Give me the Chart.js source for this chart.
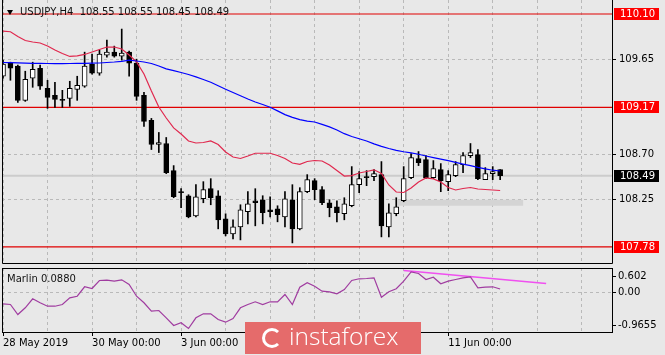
<!DOCTYPE html>
<html>
<head>
<meta charset="utf-8">
<script src="https://cdn.jsdelivr.net/npm/chart.js@4.4.0/dist/chart.umd.min.js"></script>
<style>
  body { margin: 0; background: #e8e8e8; }
  #wrap { position: relative; width: 665px; height: 355px; overflow: hidden; font-family: "DejaVu Sans", sans-serif; }
  #main { position: absolute; left: 0; top: 0; }
  #sub { position: absolute; left: 0; top: 264px; }
  .lbl { position: absolute; font-size: 10px; line-height: 12px; color: #111; white-space: pre; }
  .tri { position: absolute; left: 7px; top: 10px; width: 0; height: 0;
         border-left: 3.5px solid transparent; border-right: 3.5px solid transparent; border-top: 5px solid #000; }
  #wm { position: absolute; left: 245px; top: 322px; width: 176px; height: 32px; background: rgb(229,107,107); }
  #wm .ico { position: absolute; left: 17px; top: 6px; width: 14px; height: 14px; border: 3px solid #fff;
             border-right-color: transparent; border-radius: 50%; }
  #wm .txt { position: absolute; left: 44px; top: -2px; font-family: "Open Sans", sans-serif; font-size: 24.5px;
             font-weight: 300; line-height: 32px; color: #fff; }
</style>
</head>
<body>
<div id="wrap">
  <canvas id="main" width="665" height="264"></canvas>
  <canvas id="sub" width="665" height="91"></canvas>
  <div class="tri"></div>
  <div class="lbl" style="left:20px;top:6px;">USDJPY,H4  108.55 108.55 108.45 108.49</div>
  <div class="lbl" style="left:7px;top:273px;">Marlin 0.0880</div>
  <div id="wm"><span class="ico"></span><span class="txt">instaforex</span></div>
</div>
<script>
// H4 candles, index 0 = 28 May 2019 00:00
var opens = [109.48, 109.61, 109.58, 109.24, 109.46, 109.56, 109.36, 109.29, 109.25, 109.26,
             109.35, 109.38, 109.60, 109.51, 109.69, 109.72, 109.68, 109.72, 109.61, 109.29,
             109.04, 108.80, 108.81, 108.54, 108.33, 108.29, 108.09, 108.26, 108.36, 108.29,
             108.06, 107.91, 107.98, 108.13, 108.24, 108.25, 108.15, 108.16, 108.08, 108.25,
             107.96, 108.33, 108.44, 108.35, 108.22, 108.18, 108.11, 108.19, 108.40, 108.48,
             108.48, 108.50, 107.98, 108.11, 108.24, 108.47, 108.66, 108.65, 108.47, 108.55,
             108.43, 108.49, 108.60, 108.69, 108.70, 108.45, 108.51, 108.55];
var highs = [109.64, 109.62, 109.59, 109.53, 109.62, 109.59, 109.44, 109.42, 109.34, 109.43,
             109.48, 109.72, 109.70, 109.74, 109.84, 109.78, 109.95, 109.73, 109.65, 109.32,
             109.06, 108.92, 108.87, 108.59, 108.36, 108.30, 108.40, 108.43, 108.46, 108.34,
             108.11, 108.05, 108.20, 108.33, 108.36, 108.29, 108.28, 108.19, 108.33, 108.40,
             108.37, 108.50, 108.46, 108.38, 108.25, 108.24, 108.27, 108.58, 108.53, 108.54,
             108.55, 108.63, 108.21, 108.27, 108.58, 108.71, 108.73, 108.69, 108.64, 108.61,
             108.54, 108.63, 108.72, 108.81, 108.75, 108.57, 108.58, 108.55];
var lows = [109.46, 109.44, 109.22, 109.23, 109.37, 109.35, 109.16, 109.17, 109.17, 109.18,
            109.24, 109.37, 109.50, 109.49, 109.67, 109.67, 109.64, 109.48, 109.24, 108.98,
            108.75, 108.72, 108.51, 108.27, 108.17, 108.07, 108.08, 108.22, 108.20, 107.96,
            107.89, 107.86, 107.85, 108.01, 107.99, 108.01, 108.08, 108.03, 107.98, 107.82,
            107.95, 108.32, 108.25, 108.20, 108.08, 108.03, 108.05, 108.18, 108.32, 108.39,
            108.44, 107.88, 107.88, 108.09, 108.23, 108.46, 108.59, 108.46, 108.46, 108.33,
            108.34, 108.48, 108.52, 108.67, 108.45, 108.45, 108.45, 108.45];
var closes = [109.60, 109.56, 109.24, 109.45, 109.55, 109.38, 109.27, 109.25, 109.24, 109.36,
              109.39, 109.58, 109.51, 109.70, 109.72, 109.68, 109.71, 109.61, 109.28, 109.03,
              108.80, 108.82, 108.52, 108.28, 108.32, 108.08, 108.28, 108.35, 108.27, 108.05,
              107.91, 107.98, 108.15, 108.21, 108.22, 108.12, 108.13, 108.10, 108.26, 107.96,
              108.33, 108.45, 108.35, 108.22, 108.17, 108.12, 108.21, 108.40, 108.46, 108.47,
              108.51, 107.99, 108.12, 108.18, 108.46, 108.67, 108.62, 108.47, 108.56, 108.44,
              108.50, 108.60, 108.69, 108.72, 108.46, 108.51, 108.53, 108.49];

// moving averages
var maBlue = [109.617, 109.615, 109.613, 109.611, 109.609, 109.608, 109.607, 109.606, 109.606, 109.607,
              109.608, 109.609, 109.611, 109.612, 109.617, 109.622, 109.629, 109.640, 109.632, 109.622,
              109.607, 109.582, 109.554, 109.536, 109.517, 109.497, 109.474, 109.448, 109.420, 109.385,
              109.351, 109.318, 109.285, 109.253, 109.224, 109.198, 109.171, 109.135, 109.098, 109.070,
              109.048, 109.033, 109.024, 109.001, 108.976, 108.944, 108.908, 108.880, 108.857, 108.835,
              108.807, 108.781, 108.760, 108.742, 108.728, 108.716, 108.703, 108.686, 108.670, 108.654,
              108.639, 108.622, 108.605, 108.589, 108.572, 108.557, 108.544, 108.536];
var maRed = [109.929, 109.923, 109.876, 109.836, 109.821, 109.811, 109.781, 109.741, 109.707, 109.677,
             109.682, 109.697, 109.721, 109.746, 109.771, 109.771, 109.751, 109.692, 109.622, 109.502,
             109.333, 109.174, 109.064, 108.965, 108.905, 108.835, 108.815, 108.820, 108.835, 108.800,
             108.725, 108.676, 108.661, 108.686, 108.713, 108.713, 108.713, 108.691, 108.661, 108.616,
             108.603, 108.631, 108.641, 108.636, 108.596, 108.541, 108.486, 108.491, 108.516, 108.531,
             108.548, 108.511, 108.397, 108.327, 108.322, 108.367, 108.427, 108.467, 108.457, 108.427,
             108.372, 108.347, 108.362, 108.372, 108.357, 108.352, 108.347, 108.342];

// Marlin oscillator
var marlin = [-0.275, -0.292, -0.537, -0.373, -0.152, -0.250, -0.334, -0.334, -0.292, -0.128,
              -0.089, 0.142, 0.100, 0.296, 0.303, 0.279, 0.313, 0.198, -0.089, -0.250,
              -0.456, -0.439, -0.618, -0.806, -0.740, -0.880, -0.618, -0.520, -0.520, -0.659,
              -0.725, -0.635, -0.373, -0.292, -0.226, -0.292, -0.226, -0.226, -0.047, -0.292,
              0.132, 0.240, 0.156, 0.034, 0.019, -0.030, 0.075, 0.296, 0.338, 0.345,
              0.362, -0.113, 0.019, 0.093, 0.279, 0.509, 0.467, 0.320, 0.377, 0.215,
              0.279, 0.320, 0.362, 0.386, 0.117, 0.132, 0.142, 0.088];
var marlinTrend = [[54.0, 0.541], [73.2, 0.222]];

var levelLines = [110.10, 109.17, 107.78];
var priceTicks = [109.65, 108.70, 108.25];
var grayZone = [53.2, 70.1, 108.25, 108.19];   // from index, to index, top, bottom
var dayStarts = [0, 6, 12, 18, 24, 30, 36, 42, 48, 54, 60, 66, 72, 78];
var dateTickIdx = [0, 12, 24, 36, 48, 60];
var dateTickLabels = ['28 May 2019', '30 May 00:00', '3 Jun 00:00', '5 Jun 00:00', '7 Jun 00:00', '11 Jun 00:00'];
var marlinTicks = [0.394, 0, -0.806];
var marlinTickLabels = ['0.602', '0.00', '-0.9655'];

var X_MIN = -0.135, X_MAX = 82.075;
var Y_MIN = 107.6099, Y_MAX = 110.2394;
var GRID = 'rgb(185,185,185)';

Chart.defaults.font.family = '"DejaVu Sans", sans-serif';
Chart.defaults.font.size = 10;
Chart.defaults.color = '#000';

var idx = closes.map(function (c, i) { return i; });
function pts(arr) { return arr.map(function (v, i) { return {x: i, y: v}; }); }
function hline(v) { return [{x: X_MIN, y: v}, {x: X_MAX, y: v}]; }
function noPad(s) { s.paddingTop = 0; s.paddingBottom = 0; s.paddingLeft = 0; s.paddingRight = 0; }

var zonePlugin = {
    id: 'zone',
    beforeDatasetsDraw: function (chart) {
        var ctx = chart.ctx, x = chart.scales.x, y = chart.scales.y;
        var x1 = x.getPixelForValue(grayZone[0]), x2 = x.getPixelForValue(grayZone[1]);
        var y1 = y.getPixelForValue(grayZone[2]), y2 = y.getPixelForValue(grayZone[3]);
        ctx.save();
        ctx.fillStyle = 'rgb(212,212,212)';
        ctx.fillRect(x1, y1, x2 - x1, y2 - y1);
        ctx.restore();
    }
};

var tagPlugin = {
    id: 'tags',
    afterDraw: function (chart) {
        var ctx = chart.ctx, a = chart.chartArea, y = chart.scales.y;
        ctx.save();
        ctx.font = '10px "DejaVu Sans"';
        ctx.textBaseline = 'middle';
        function tag(v, bg) {
            var py = Math.round(y.getPixelForValue(v));
            ctx.fillStyle = bg;
            ctx.fillRect(a.right + 2, py - 6, 45, 12);
            ctx.fillStyle = '#fff';
            ctx.fillText(v.toFixed(2), a.right + 8, py + 0.5);
        }
        levelLines.forEach(function (v) { tag(v, '#ff0000'); });
        tag(closes[closes.length - 1], '#000');
        ctx.strokeStyle = '#000';
        ctx.lineWidth = 1;
        ctx.beginPath();
        ctx.moveTo(a.left + 0.5, a.top);
        ctx.lineTo(a.left + 0.5, a.bottom - 0.5);
        ctx.lineTo(a.right + 0.5, a.bottom - 0.5);
        ctx.lineTo(a.right + 0.5, a.top);
        ctx.stroke();
        ctx.restore();
    }
};

var framePlugin = {
    id: 'frame',
    afterDraw: function (chart) {
        var ctx = chart.ctx, a = chart.chartArea;
        ctx.save();
        ctx.strokeStyle = '#000';
        ctx.lineWidth = 1;
        ctx.strokeRect(a.left + 0.5, a.top + 0.5, a.right - a.left, a.bottom - a.top);
        ctx.restore();
    }
};

var mainDatasets = [
    {type: 'line', data: pts(maBlue), borderColor: '#0000ff', borderWidth: 1.2, pointRadius: 0, order: 0},
    {type: 'line', data: pts(maRed), borderColor: '#e0284e', borderWidth: 1.2, pointRadius: 0, order: 0},
    {
        data: idx.map(function (i) { return {x: i, y: [opens[i], closes[i]]}; }),
        barThickness: 5, borderWidth: 1, borderColor: '#000', borderSkipped: false, grouped: false, order: 1,
        backgroundColor: function (c) { return closes[c.dataIndex] > opens[c.dataIndex] ? '#fff' : '#000'; }
    },
    {
        data: idx.map(function (i) { return {x: i, y: [lows[i], highs[i]]}; }),
        barThickness: 1, backgroundColor: '#000', grouped: false, order: 2
    }
];
levelLines.forEach(function (v) {
    mainDatasets.push({type: 'line', data: hline(v), borderColor: '#e00000', borderWidth: 1.2, pointRadius: 0, order: 3});
});
mainDatasets.push({type: 'line', data: hline(closes[closes.length - 1]), borderColor: 'rgb(204,204,204)', borderWidth: 2, pointRadius: 0, order: 4});

new Chart(document.getElementById('main'), {
    type: 'bar',
    data: {datasets: mainDatasets},
    options: {
        responsive: false,
        animation: false,
        layout: {padding: {left: 2, top: 0, right: 0, bottom: 0}},
        plugins: {legend: {display: false}, tooltip: {enabled: false}},
        scales: {
            x: {
                type: 'linear', min: X_MIN, max: X_MAX, offset: false,
                afterBuildTicks: function (s) { s.ticks = dayStarts.map(function (v) { return {value: v}; }); },
                afterFit: function (s) { s.height = 0; noPad(s); },
                ticks: {display: false},
                border: {display: false, dash: [3, 3]},
                grid: {offset: false, color: GRID, drawTicks: false}
            },
            y: {
                position: 'right', min: Y_MIN, max: Y_MAX,
                afterBuildTicks: function (s) { s.ticks = priceTicks.map(function (v) { return {value: v}; }); },
                afterFit: function (s) { s.width = 53; noPad(s); },
                ticks: {padding: 3, callback: function (v) { return v.toFixed(2); }},
                border: {display: false, dash: [3, 3]},
                grid: {color: GRID, tickColor: '#000', tickLength: 4, tickBorderDash: []}
            }
        }
    },
    plugins: [zonePlugin, tagPlugin]
});

new Chart(document.getElementById('sub'), {
    type: 'line',
    data: {
        datasets: [
            {data: pts(marlin), borderColor: '#a03ca0', borderWidth: 1.2, pointRadius: 0},
            {data: marlinTrend.map(function (p) { return {x: p[0], y: p[1]}; }), borderColor: '#f050f0', borderWidth: 1.6, pointRadius: 0}
        ]
    },
    options: {
        responsive: false,
        animation: false,
        layout: {padding: {left: 2, top: 4, right: 0, bottom: 0}},
        plugins: {legend: {display: false}, tooltip: {enabled: false}},
        scales: {
            x: {
                type: 'linear', min: X_MIN, max: X_MAX, offset: false,
                afterBuildTicks: function (s) { s.ticks = dayStarts.map(function (v) { return {value: v}; }); },
                afterFit: function (s) { s.height = 23; noPad(s); },
                ticks: {
                    align: 'start', autoSkip: false, maxRotation: 0, padding: 1,
                    callback: function (v) { var k = dateTickIdx.indexOf(v); return k >= 0 ? dateTickLabels[k] : ''; }
                },
                border: {display: false, dash: [3, 3]},
                grid: {
                    color: GRID, tickLength: 4, tickBorderDash: [],
                    tickColor: function (c) { return c.tick && dateTickIdx.indexOf(c.tick.value) >= 0 ? '#000' : 'rgba(0,0,0,0)'; }
                }
            },
            y: {
                position: 'right', min: -0.9655, max: 0.602,
                afterBuildTicks: function (s) { s.ticks = marlinTicks.map(function (v) { return {value: v}; }); },
                afterFit: function (s) { s.width = 53; noPad(s); },
                ticks: {padding: 2, callback: function (v, i) { return marlinTickLabels[i]; }},
                border: {display: false, dash: [3, 3]},
                grid: {
                    tickColor: '#000', tickLength: 4, tickBorderDash: [],
                    color: function (c) { return c.tick && c.tick.value === 0 ? GRID : 'rgba(0,0,0,0)'; }
                }
            }
        }
    },
    plugins: [framePlugin]
});
</script>
</body>
</html>
